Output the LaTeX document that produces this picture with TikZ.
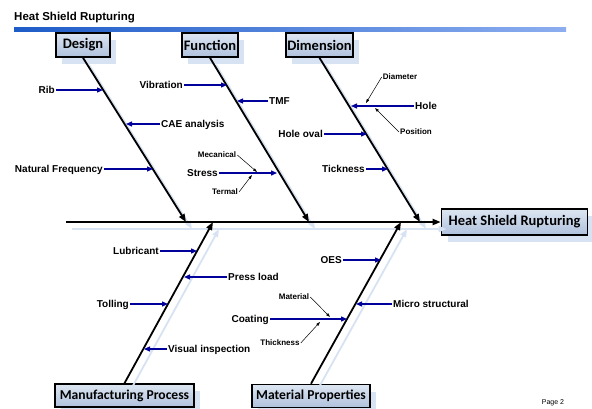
\documentclass[tikz,border=0pt]{standalone}
\usepackage{fontspec}
\setmainfont{Liberation Sans}
\newfontfamily\boxfont{Carlito}
\usetikzlibrary{arrows.meta,shadows}

\definecolor{boxtop}{HTML}{DDE6F2}
\definecolor{boxbottom}{HTML}{AFC1DC}
\definecolor{shadowblue}{HTML}{D7E2F2}
\definecolor{causeblue}{HTML}{00009A}
\definecolor{rulestart}{HTML}{1E5CC8}
\definecolor{ruleend}{HTML}{8CAEF0}

\begin{document}
\begin{tikzpicture}[
  x=1pt, y=-1pt,
  category/.style={draw=black, line width=1.6pt, shading=axis, top color=boxtop, bottom color=boxbottom,
    font=\boxfont\bfseries\fontsize{14.5}{14.5}\selectfont, inner sep=1pt, minimum height=24pt,
    drop shadow={shadow xshift=6pt, shadow yshift=-7pt, fill=shadowblue, opacity=1}},
  small category/.style={category, font=\boxfont\bfseries\fontsize{13.6}{13.6}\selectfont, minimum height=23pt},
  cause/.style={font=\bfseries\fontsize{10}{10}\selectfont, inner sep=1pt, text height=8pt, text depth=1pt},
  subcause/.style={font=\bfseries\fontsize{8}{8}\selectfont, inner sep=1pt, text height=6pt, text depth=1pt},
  bone/.style={line width=1.8pt, -{Triangle[length=8pt,width=6pt]}},
  bone shadow/.style={draw=shadowblue, line width=1.8pt, -{Triangle[length=8pt,width=6pt]},
    transform canvas={xshift=6pt, yshift=-7pt}},
  causearrow/.style={draw=causeblue, line width=1.3pt, -{Triangle[length=6pt,width=5pt]}},
  subarrow/.style={line width=0.5pt, -{Triangle[length=4pt,width=2.6pt]}}
]
\useasboundingbox (0,0) rectangle (592,408);

% title and rule
\node[font=\bfseries\fontsize{11.5}{11.5}\selectfont, anchor=west, inner sep=0pt] (title) at (14,18) {Heat Shield Rupturing};
\shade[left color=rulestart, right color=ruleend] (14,27) rectangle (566,31);
\node[font=\fontsize{7}{7}\selectfont, inner sep=0pt] (page) at (553,403) {Page 2};

% category boxes
\node[category, minimum width=54pt] (design) at (83,45) {Design};
\node[category, minimum width=56pt] (function) at (210,45) {Function};
\node[category, minimum width=67pt] (dimension) at (319.5,45) {Dimension};
\node[category, minimum width=146pt, minimum height=26pt] (effect) at (514.5,222) {Heat Shield Rupturing};
\node[small category, minimum width=139pt] (manu) at (124.5,395.5) {Manufacturing Process};
\node[small category, minimum width=118pt] (matprop) at (311,396) {Material Properties};

% spine and bones
\coordinate (tail) at (66,222);
\coordinate (desJ) at (186,222);
\coordinate (funJ) at (309,222);
\coordinate (dimJ) at (420,222);
\coordinate (manJ) at (213,222);
\coordinate (matJ) at (401,222);

\draw[bone shadow] (tail) -- (effect.west);
\draw[bone shadow] (design.south) -- (desJ);
\draw[bone shadow] (function.south) -- (funJ);
\draw[bone shadow] (dimension.south) -- (dimJ);
\draw[bone shadow] (manu.north) -- (manJ);
\draw[bone shadow] (matprop.north) -- (matJ);

\draw[bone] (tail) -- (effect.west);
\draw[bone] (design.south) -- (desJ);
\draw[bone] (function.south) -- (funJ);
\draw[bone] (dimension.south) -- (dimJ);
\draw[bone] (manu.north) -- (manJ);
\draw[bone] (matprop.north) -- (matJ);

% Design
\node[cause, anchor=east] (rib) at (56,90) {Rib};
\node[cause, anchor=west] (cae) at (160,124) {CAE analysis};
\node[cause, anchor=east] (natfreq) at (104,169) {Natural Frequency};
\coordinate (ribT) at (103,90);
\coordinate (caeT) at (126,124);
\coordinate (natfreqT) at (153,169);
\draw[causearrow] (rib.east) -- (ribT);
\draw[causearrow] (cae.west) -- (caeT);
\draw[causearrow] (natfreq.east) -- (natfreqT);

% Function
\node[cause, anchor=east] (vib) at (184,85) {Vibration};
\node[cause, anchor=west] (tmf) at (268,101) {TMF};
\node[cause, anchor=east] (stress) at (219,173) {Stress};
\node[subcause] (mec) at (217,155) {Mecanical};
\node[subcause] (term) at (225,192) {Termal};
\coordinate (vibT) at (227,85);
\coordinate (tmfT) at (237,101);
\coordinate (stressT) at (277,173);
\coordinate (mecT) at (257,172);
\coordinate (termT) at (252,175);
\draw[causearrow] (vib.east) -- (vibT);
\draw[causearrow] (tmf.west) -- (tmfT);
\draw[causearrow] (stress.east) -- (stressT);
\draw[subarrow] (mec.east) -- (mecT);
\draw[subarrow] (term.east) -- (termT);

% Dimension
\node[cause, anchor=west] (hole) at (414,106) {Hole};
\node[subcause] (diam) at (400,77) {Diameter};
\node[subcause] (pos) at (416,132) {Position};
\node[cause, anchor=east] (holeoval) at (324,134) {Hole oval};
\node[cause, anchor=east] (tick) at (366,169) {Tickness};
\coordinate (holeT) at (351,106);
\coordinate (diamT) at (366,103);
\coordinate (posT) at (375,108);
\coordinate (holeovalT) at (367,134);
\coordinate (tickT) at (388,169);
\draw[causearrow] (hole.west) -- (holeT);
\draw[subarrow] (diam.west) -- (diamT);
\draw[subarrow] (pos.west) -- (posT);
\draw[causearrow] (holeoval.east) -- (holeovalT);
\draw[causearrow] (tick.east) -- (tickT);

% Manufacturing Process
\node[cause, anchor=east] (lub) at (160,251) {Lubricant};
\node[cause, anchor=west] (press) at (227,277) {Press load};
\node[cause, anchor=east] (tol) at (130,304) {Tolling};
\node[cause, anchor=west] (vis) at (167,349) {Visual inspection};
\coordinate (lubT) at (197,251);
\coordinate (pressT) at (184,277);
\coordinate (tolT) at (168,304);
\coordinate (visT) at (144,349);
\draw[causearrow] (lub.east) -- (lubT);
\draw[causearrow] (press.west) -- (pressT);
\draw[causearrow] (tol.east) -- (tolT);
\draw[causearrow] (vis.west) -- (visT);

% Material Properties
\node[cause, anchor=east] (oes) at (343,260) {OES};
\node[cause, anchor=west] (micro) at (392,304) {Micro structural};
\node[cause, anchor=east] (coat) at (270,319) {Coating};
\node[subcause] (mat) at (294,297) {Material};
\node[subcause] (thick) at (280,343) {Thickness};
\coordinate (oesT) at (381,260);
\coordinate (microT) at (356,304);
\coordinate (coatT) at (347,319);
\coordinate (matT) at (330,317);
\coordinate (thickT) at (320,322);
\draw[causearrow] (oes.east) -- (oesT);
\draw[causearrow] (micro.west) -- (microT);
\draw[causearrow] (coat.east) -- (coatT);
\draw[subarrow] (mat.east) -- (matT);
\draw[subarrow] (thick.east) -- (thickT);
\end{tikzpicture}
\end{document}
